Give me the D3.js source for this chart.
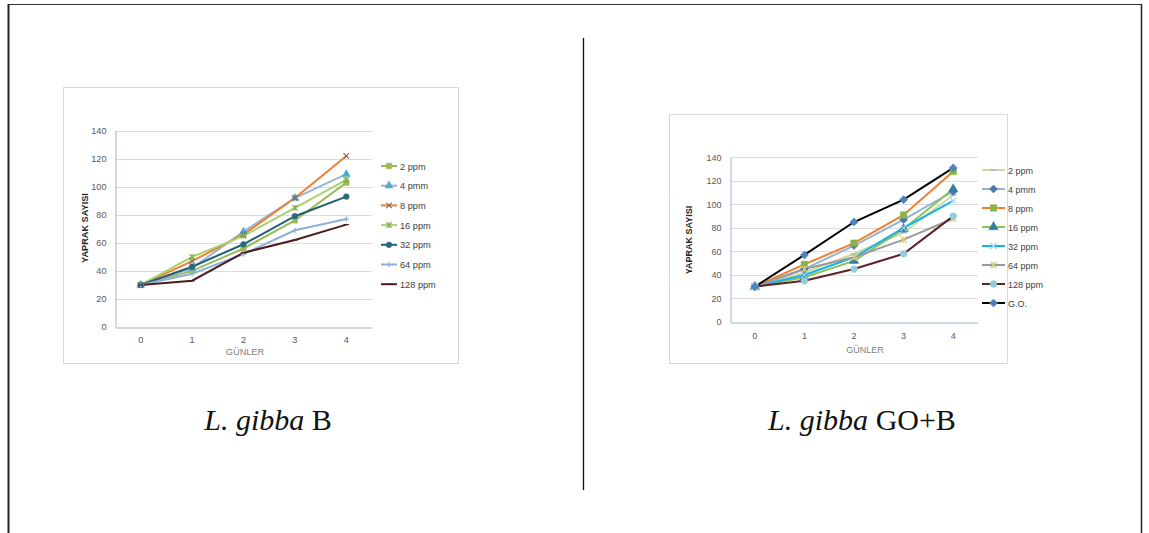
<!DOCTYPE html>
<html>
<head>
<meta charset="utf-8">
<script src="https://cdn.jsdelivr.net/npm/d3@7"></script>
<style>
  body { margin: 0; background: #fff; }
  .tick text { fill: #595959; font-family: "Liberation Sans", Arial, sans-serif; }
</style>
</head>
<body>
<div id="page"></div>
<script>
// ---- data ----
var days = ["0", "1", "2", "3", "4"];
var yTicks = [0, 20, 40, 60, 80, 100, 120, 140];

var namesB = ["2 ppm", "4 pmm", "8 ppm", "16 ppm", "32 ppm", "64 ppm", "128 ppm"];
var valuesB = [
    [30, 40, 56, 76, 103],
    [30, 42, 68, 92, 109],
    [30, 47, 66, 92, 122],
    [30, 50, 65, 85, 105],
    [30, 43, 59, 79, 93],
    [30, 38, 52, 69, 77],
    [30, 33, 53, 62, 73]
];

var namesGOB = ["2 ppm", "4 pmm", "8 ppm", "16 ppm", "32 ppm", "64 ppm", "128 ppm", "G.O."];
var valuesGOB = [
    [30, 42, 58, 76, 108],
    [30, 45, 65, 87, 111],
    [30, 49, 67, 91, 128],
    [30, 38, 52, 79, 113],
    [30, 40, 55, 80, 103],
    [30, 45, 55, 70, 88],
    [30, 35, 45, 58, 90],
    [30, 57, 85, 104, 131]
];

// ---- styles ----
var styleB = [
    {line: "#9bbb59", mark: "square", fill: "#9bbb59"},
    {line: "#93b7d9", mark: "triangle", fill: "#4bacc6"},
    {line: "#f07f2f", mark: "x", fill: "#7f6a66"},
    {line: "#a9d26f", mark: "star", fill: "#86b04a"},
    {line: "#215f73", mark: "circle", fill: "#2a6a7f"},
    {line: "#8fb0d6", mark: "plus", fill: "#8fb0d6"},
    {line: "#4b1d1f", mark: "dash", fill: "#4b1d1f"}
];
var styleGOB = [
    {line: "#c8dc9c", mark: "dash", fill: "#95b3d7"},
    {line: "#95b3d7", mark: "diamond", fill: "#4a76b0"},
    {line: "#f07f2f", mark: "square", fill: "#8cb24a"},
    {line: "#8cc258", mark: "triangle", fill: "#2f8196"},
    {line: "#1ab0ee", mark: "x", fill: "#9fdcf5"},
    {line: "#9a9a9a", mark: "star", fill: "#d8cc7a"},
    {line: "#5e2224", mark: "circle", fill: "#93cddd"},
    {line: "#000000", mark: "diamond", fill: "#4f81bd"}
];

var W = 1149, H = 533;
var svg = d3.select('#page').append('svg')
    .attr('width', W).attr('height', H)
    .style('display', 'block');

// page frame
svg.append('line').attr('x1', 8).attr('x2', 1142).attr('y1', 4.5).attr('y2', 4.5)
    .attr('stroke', '#333').attr('stroke-width', 1.2);
svg.append('line').attr('x1', 8.5).attr('x2', 8.5).attr('y1', 4).attr('y2', 533)
    .attr('stroke', '#222').attr('stroke-width', 2);
svg.append('line').attr('x1', 1141.5).attr('x2', 1141.5).attr('y1', 4).attr('y2', 533)
    .attr('stroke', '#222').attr('stroke-width', 1.5);
svg.append('line').attr('x1', 583.5).attr('x2', 583.5).attr('y1', 38).attr('y2', 490)
    .attr('stroke', '#111').attr('stroke-width', 1.3);

function symbolPath(kind, s) {
    var r = s / 2;
    if (kind == "square") return d3.symbol(d3.symbolSquare, s * s)();
    if (kind == "triangle") return d3.symbol(d3.symbolTriangle, s * s * 0.9)();
    if (kind == "circle") return d3.symbol(d3.symbolCircle, s * s * 0.85)();
    if (kind == "diamond") {
        var d = r * 1.25;
        return "M0," + (-d) + "L" + d + ",0L0," + d + "L" + (-d) + ",0Z";
    }
    if (kind == "x") return "M" + (-r) + "," + (-r) + "L" + r + "," + r + "M" + (-r) + "," + r + "L" + r + "," + (-r);
    if (kind == "plus") return "M" + (-r) + ",0L" + r + ",0M0," + (-r) + "L0," + r;
    if (kind == "star") return "M" + (-r) + "," + (-r) + "L" + r + "," + r + "M" + (-r) + "," + r + "L" + r + "," + (-r) + "M0," + (-r) + "L0," + r;
    if (kind == "dash") return "M" + (-r) + ",0L" + r + ",0";
}
function drawMark(g, st, x, y, s) {
    var filled = ["square", "triangle", "diamond", "circle"].indexOf(st.mark) >= 0;
    g.append('path')
        .attr('d', symbolPath(st.mark, s))
        .attr('transform', 'translate(' + x + ',' + y + ')')
        .attr('fill', filled ? st.fill : 'none')
        .attr('stroke', st.fill)
        .attr('stroke-width', filled ? 0.5 : 1.2);
}

function chart(cfg) {
    var g = svg.append('g');
    g.append('rect')
        .attr('x', cfg.box[0] + 0.5).attr('y', cfg.box[1] + 0.5)
        .attr('width', cfg.box[2]).attr('height', cfg.box[3])
        .attr('fill', '#fff').attr('stroke', '#d9d9d9');

    var x = d3.scaleBand().domain(days).range([cfg.plot.left, cfg.plot.right]);
    var y = d3.scaleLinear().domain([0, 140]).range([cfg.plot.bottom, cfg.plot.top]);

    // gridlines
    g.selectAll('.grid').data(yTicks.slice(1)).enter().append('line')
        .attr('x1', cfg.plot.left).attr('x2', cfg.plot.right)
        .attr('y1', function(d) { return Math.round(y(d)) + 0.5; })
        .attr('y2', function(d) { return Math.round(y(d)) + 0.5; })
        .attr('stroke', '#dcdcdc');

    var yAxis = g.append('g')
        .attr('transform', 'translate(' + (cfg.plot.left + 0.5) + ',0)')
        .call(d3.axisLeft(y).tickValues(yTicks).tickSize(0).tickPadding(cfg.yPad));
    yAxis.select('.domain').attr('stroke', '#9fb7d4');
    yAxis.selectAll('text').attr('font-size', cfg.fs);

    var xAxis = g.append('g')
        .attr('transform', 'translate(0,' + (Math.round(cfg.plot.bottom) + 0.5) + ')')
        .call(d3.axisBottom(x).tickSize(0).tickPadding(cfg.xPad));
    xAxis.select('.domain').attr('stroke', '#9fb7d4');
    xAxis.selectAll('text').attr('font-size', cfg.fs);

    // axis titles
    g.append('text')
        .attr('transform', 'translate(' + cfg.yTitle[0] + ',' + cfg.yTitle[1] + ') rotate(-90)')
        .attr('text-anchor', 'middle')
        .attr('font-family', '"Liberation Sans", Arial, sans-serif')
        .attr('font-weight', 'bold').attr('font-size', cfg.fs)
        .attr('fill', '#262626')
        .text('YAPRAK SAYISI');
    g.append('text')
        .attr('x', cfg.xTitle[0]).attr('y', cfg.xTitle[1])
        .attr('text-anchor', 'middle')
        .attr('font-family', '"Liberation Sans", Arial, sans-serif')
        .attr('font-size', cfg.fs).attr('fill', '#7f7f7f')
        .text('GÜNLER');

    var line = d3.line()
        .x(function(d, i) { return x(days[i]) + x.bandwidth() / 2; })
        .y(function(d) { return y(d); });

    cfg.values.forEach(function(vals, k) {
        var st = cfg.styles[k];
        g.append('path').datum(vals)
            .attr('d', line)
            .attr('fill', 'none')
            .attr('stroke', st.line)
            .attr('stroke-width', 2);
    });
    cfg.values.forEach(function(vals, k) {
        var st = cfg.styles[k];
        vals.forEach(function(v, i) {
            drawMark(g, st, x(days[i]) + x.bandwidth() / 2, y(v), cfg.ms);
        });
    });

    // legend
    cfg.names.forEach(function(n, k) {
        var st = cfg.styles[k];
        var ly = cfg.legend.y + k * cfg.legend.step;
        g.append('line')
            .attr('x1', cfg.legend.x).attr('x2', cfg.legend.x + cfg.legend.len)
            .attr('y1', ly).attr('y2', ly)
            .attr('stroke', st.line).attr('stroke-width', 2);
        drawMark(g, st, cfg.legend.x + cfg.legend.len / 2, ly, cfg.ms);
        g.append('text')
            .attr('x', cfg.legend.x + cfg.legend.len + 3).attr('y', ly + 3.5)
            .attr('font-family', '"Liberation Sans", Arial, sans-serif')
            .attr('font-size', cfg.fs).attr('fill', '#404040')
            .text(n);
    });

    // caption below
    var cap = svg.append('text')
        .attr('x', cfg.caption[0]).attr('y', cfg.caption[1])
        .attr('text-anchor', 'middle')
        .attr('font-family', '"Liberation Serif", "Times New Roman", serif')
        .attr('font-size', 30).attr('fill', '#111');
    cap.append('tspan').attr('font-style', 'italic').text('L. gibba');
    cap.append('tspan').text(' ' + cfg.capText);
}

chart({
    box: [63, 87, 395, 276],
    plot: {left: 115, right: 372, top: 130.7, bottom: 327},
    values: valuesB, names: namesB, styles: styleB,
    fs: 9.2, ms: 5.5, yPad: 9, xPad: 9,
    yTitle: [88, 228], xTitle: [245, 355],
    legend: {x: 381, len: 16, y: 166, step: 19.7},
    caption: [268, 430], capText: 'B'
});

chart({
    box: [669, 114, 338, 249],
    plot: {left: 730, right: 978, top: 157.3, bottom: 322},
    values: valuesGOB, names: namesGOB, styles: styleGOB,
    fs: 9, ms: 6.5, yPad: 9, xPad: 10,
    yTitle: [692, 240], xTitle: [865, 353],
    legend: {x: 982, len: 23, y: 170, step: 19},
    caption: [862, 430], capText: 'GO+B'
});
</script>
</body>
</html>
